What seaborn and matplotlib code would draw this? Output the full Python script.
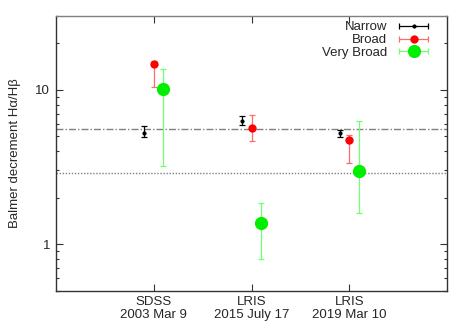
import numpy as np
import seaborn as sns
import matplotlib.pyplot as plt
from matplotlib.lines import Line2D
from matplotlib.legend_handler import HandlerLine2D
from matplotlib.ticker import LogLocator, FixedLocator, NullFormatter

# epochs on the x axis
epochs = ["SDSS\n2003 Mar 9", "LRIS\n2015 July 17", "LRIS\n2019 Mar 10"]
epoch_pos = [1, 2, 3]

# Balmer decrement per component: value, lower end, upper end
narrow = [5.25, 6.22, 5.23]
narrow_lo = [4.95, 5.94, 4.95]
narrow_hi = [5.83, 6.75, 5.46]

broad = [14.7, 5.66, 4.69]
broad_lo = [10.4, 4.64, 3.33]
broad_hi = [15.2, 6.90, 5.08]

vbroad = [10.15, 1.37, 2.99]
vbroad_lo = [3.19, 0.80, 1.59]
vbroad_hi = [13.6, 1.84, 6.28]

# reference lines
ref_dashdot = 5.52
ref_dotted = 2.90

sns.set_style("ticks")
plt.rcParams["font.family"] = ["Liberation Sans", "DejaVu Sans"]
plt.rcParams["font.size"] = 9.5

fig = plt.figure(figsize=(4.71, 3.30), dpi=100)
ax = fig.add_axes([0.118, 0.119, 0.832, 0.833])

ax.axhline(ref_dashdot, color="#808080", lw=1.0, ls=(0, (5, 1.5, 1, 1.5)), zorder=1)
ax.axhline(ref_dotted, color="#808080", lw=1.0, ls=(0, (1, 1.2)), zorder=1)

series = [
    ("Narrow", narrow, narrow_lo, narrow_hi, -0.1, "black", "black", 3.0, 2.0),
    ("Broad", broad, broad_lo, broad_hi, 0.0, "#ff0000", "#ff6a6a", 6.0, 2.5),
    ("Very Broad", vbroad, vbroad_lo, vbroad_hi, 0.1, "#00ee00", "#70ff70", 9.5, 2.5),
]

handles = []
hmap = {}
for label, val, lo, hi, off, col, ecol, ms, cs in series:
    val = np.array(val)
    yerr = [val - np.array(lo), np.array(hi) - val]
    x = np.array(epoch_pos) + off
    ax.errorbar(x, val, yerr=yerr, fmt="none", ecolor=ecol, elinewidth=0.9,
                capsize=cs, capthick=0.9, zorder=2)
    sns.scatterplot(x=x, y=val, ax=ax, color=col, s=ms ** 2, marker="o",
                    edgecolor=col, linewidth=0, zorder=3)
    capline = Line2D([], [], color=ecol, lw=0.9, marker="|", ms=5, mew=0.9)
    dot = Line2D([], [], color=col, lw=0, marker="o", ms=ms, mew=0)
    hmap[capline] = HandlerLine2D(numpoints=2)
    hmap[dot] = HandlerLine2D(numpoints=1)
    handles.append((capline, dot))

ax.set_yscale("log")
ax.set_ylim(0.5, 30)
ax.set_xlim(0, 4)
ax.yaxis.set_major_locator(FixedLocator([1, 10]))
ax.yaxis.set_minor_locator(LogLocator(base=10, subs=np.arange(2, 10)))
ax.yaxis.set_minor_formatter(NullFormatter())
ax.set_yticklabels(["1", "10"])
ax.set_xticks(epoch_pos)
ax.set_xticklabels(epochs, linespacing=1.05)
ax.minorticks_on()
ax.xaxis.set_minor_locator(FixedLocator([]))

ax.tick_params(which="both", direction="in", top=True, right=True, color="#333333", width=0.8)
ax.tick_params(which="major", length=5, pad=4)
ax.tick_params(which="minor", length=2.5)
for side, sp in ax.spines.items():
    sp.set_color("#333333" if side != "top" else "#808080")
    sp.set_linewidth(1.0)

ax.set_ylabel("Balmer decrement H\u03b1/H\u03b2", labelpad=10)

ax.legend(handles, ["Narrow", "Broad", "Very Broad"], handler_map=hmap,
          loc="upper right", bbox_to_anchor=(432 / 471, 1 - 21 / 330),
          bbox_transform=fig.transFigure, frameon=False, markerfirst=False,
          borderpad=0, borderaxespad=0, handlelength=2.8, handletextpad=0.6,
          labelspacing=0.05, fontsize=9.5)

fig.savefig("out.png", dpi=100)
